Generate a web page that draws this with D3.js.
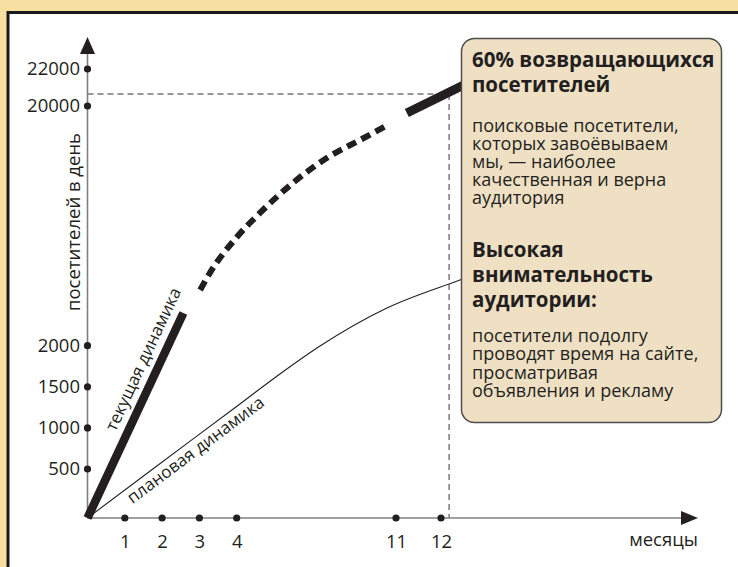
<!DOCTYPE html>
<html>
<head>
<meta charset="utf-8">
<script src="https://cdn.jsdelivr.net/npm/d3@7"></script>
<style>
  body { margin: 0; background: #f6dfa0; }
  svg { display: block; font-family: "Open Sans", sans-serif; }
</style>
</head>
<body>
<div class="chart"></div>
<script>
// values: [month, visitors per day]
const yTicks = [500, 1000, 1500, 2000, 20000, 22000]
const xTicks = [1, 2, 3, 4, 11, 12]
const currentFact = [[0, 0], [2.57, 4456]]
const currentForecast = [[3.02, 6183], [3.28, 7460], [4.01, 10163], [5.02, 11966], [6.47, 14219], [7.96, 16096], [9.42, 17448], [10.65, 18575]]
const currentTarget = [[11.24, 19476], [12.64, 21297]]
const planned = [[0, 0], [1.68, 480], [3.98, 1255], [5.9, 1656], [7.66, 1996], [10.6, 4831], [12.42, 6934], [12.6, 7159]]
const targetPoint = [12.18, 20650]

const yLabel = "посетителей в день"
const xLabel = "месяцы"
const currentLabel = "текущая динамика"
const plannedLabel = "плановая динамика"
const head1 = ["60% возвращающихся", "посетителей"]
const body1 = ["поисковые посетители,", "которых завоёвываем", "мы, — наиболее", "качественная и верна", "аудитория"]
const head2 = ["Высокая", "внимательность", "аудитории:"]
const body2 = ["посетители подолгу", "проводят время на сайте,", "просматривая", "объявления и рекламу"]

const W = 738, H = 567
const ink = "#231f20"

const svg = d3.select(".chart").append("svg").attr("width", W).attr("height", H)

// beige page with white panel
svg.append("rect").attr("width", W).attr("height", H).attr("fill", "#f6dfa0")
svg.append("rect").attr("x", 8).attr("y", 12.5).attr("width", 800).attr("height", 600)
  .attr("fill", "#fff").attr("stroke", "#1a1a1a").attr("stroke-width", 3)

// broken axes -> polylinear scales
const x = d3.scaleLinear().domain([0, 4, 11, 12]).range([87.5, 236.7, 396, 441])
const y = d3.scaleLinear().domain([0, 500, 2000, 20000, 22000]).range([518, 469, 345.7, 106, 69])
const x0 = x(0), y0 = y(0)

// reference dashed lines
svg.append("line")
  .attr("x1", x0).attr("x2", x(targetPoint[0]))
  .attr("y1", y(targetPoint[1])).attr("y2", y(targetPoint[1]))
  .attr("stroke", "#333").attr("stroke-width", 1.1).attr("stroke-dasharray", "6,4")
svg.append("line")
  .attr("x1", x(targetPoint[0])).attr("x2", x(targetPoint[0]))
  .attr("y1", y(targetPoint[1])).attr("y2", y0)
  .attr("stroke", "#666").attr("stroke-width", 1.3).attr("stroke-dasharray", "6,4")

// axis lines with arrows
svg.append("line").attr("x1", x0).attr("x2", x0).attr("y1", y0).attr("y2", 50)
  .attr("stroke", "#808080").attr("stroke-width", 1.6)
svg.append("line").attr("x1", x0).attr("x2", 684).attr("y1", y0).attr("y2", y0)
  .attr("stroke", "#808080").attr("stroke-width", 1.6)
svg.append("path").attr("d", `M${x0},37 L${x0 + 7.5},54 L${x0 - 7.5},54 Z`).attr("fill", ink)
svg.append("path").attr("d", `M698,${y0} L681,${y0 - 7} L681,${y0 + 7} Z`).attr("fill", ink)

// tick labels through d3 axes
const yAxis = svg.append("g").attr("transform", `translate(${x0},0)`)
  .call(d3.axisLeft(y).tickValues(yTicks).tickSize(0).tickPadding(7.5).tickFormat(d => d))
yAxis.select(".domain").remove()
yAxis.selectAll("text").attr("font-size", 18.5).attr("font-family", "Open Sans").attr("fill", ink)

const xAxis = svg.append("g").attr("transform", `translate(0,${y0})`)
  .call(d3.axisBottom(x).tickValues(xTicks).tickSize(0).tickPadding(17).tickFormat(d => d))
xAxis.select(".domain").remove()
xAxis.selectAll("text").attr("font-size", 18.5).attr("font-family", "Open Sans").attr("fill", ink)

svg.selectAll(".ydot").data(yTicks).join("circle").attr("class", "ydot")
  .attr("cx", x0).attr("cy", d => y(d)).attr("r", 3.6).attr("fill", ink)
svg.selectAll(".xdot").data(xTicks).join("circle").attr("class", "xdot")
  .attr("cx", d => x(d)).attr("cy", y0).attr("r", 3.6).attr("fill", ink)

// axis titles
svg.append("text").attr("transform", `translate(80,222) rotate(-90)`)
  .attr("text-anchor", "middle").attr("font-size", 18.5).attr("fill", ink).text(yLabel)
svg.append("text").attr("x", 698).attr("y", 546)
  .attr("text-anchor", "end").attr("font-size", 18.5).attr("fill", ink).text(xLabel)

// curves
const line = d3.line().x(d => x(d[0])).y(d => y(d[1]))
const smooth = d3.line().x(d => x(d[0])).y(d => y(d[1])).curve(d3.curveMonotoneX)

svg.append("path").attr("d", smooth(planned))
  .attr("fill", "none").attr("stroke", ink).attr("stroke-width", 1.1)
svg.append("path").attr("d", line(currentFact))
  .attr("fill", "none").attr("stroke", ink).attr("stroke-width", 8.5)
svg.append("path").attr("d", smooth(currentForecast))
  .attr("fill", "none").attr("stroke", ink).attr("stroke-width", 6).attr("stroke-dasharray", "10,6")
svg.append("path").attr("d", line(currentTarget))
  .attr("fill", "none").attr("stroke", ink).attr("stroke-width", 9)

// labels running along the lines
function alongLabel(p, q, t, off, txt) {
  const ax = x(p[0]), ay = y(p[1]), bx = x(q[0]), by = y(q[1])
  const len = Math.hypot(bx - ax, by - ay)
  const ux = (bx - ax) / len, uy = (by - ay) / len
  const ang = Math.atan2(by - ay, bx - ax) * 180 / Math.PI
  // normal pointing to the text's "up" side is (uy, -ux)
  const cx = ax + (bx - ax) * t + uy * off
  const cy = ay + (by - ay) * t - ux * off
  svg.append("text").attr("transform", `translate(${cx},${cy}) rotate(${ang})`)
    .attr("text-anchor", "middle").attr("font-size", 17).attr("fill", ink).text(txt)
}
alongLabel(currentFact[0], currentFact[1], 0.74, 11, currentLabel)
alongLabel(planned[0], planned[3], 0.53, -16, plannedLabel)

// callout box
svg.append("rect").attr("x", 461.5).attr("y", 38.5).attr("width", 260).attr("height", 384).attr("rx", 13)
  .attr("fill", "#efe0c4").attr("stroke", "#4d4d4d").attr("stroke-width", 1.5)

// each block is one text element, lines as tspans
function block(lines, top, step, size, weight) {
  svg.append("text").attr("x", 472).attr("y", top)
    .attr("font-size", size).attr("font-weight", weight).attr("fill", ink)
    .selectAll("tspan").data(lines).join("tspan")
    .attr("x", 472).attr("dy", (d, i) => i === 0 ? 0 : step).text(d => d)
}
block(head1, 67, 25, 20.5, "bold")
block(body1, 132, 18, 18, "normal")
block(head2, 257, 25, 20.5, "bold")
block(body2, 342, 18.3, 18, "normal")
</script>
</body>
</html>
